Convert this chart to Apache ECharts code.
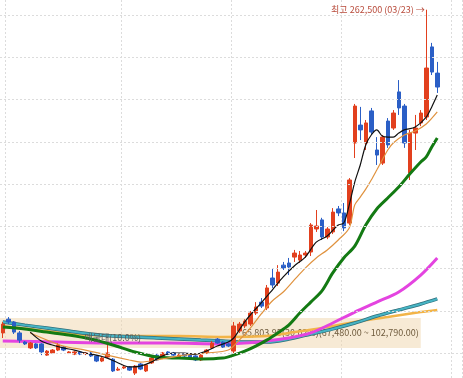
<!DOCTYPE html>
<html>
<head>
<meta charset="utf-8">
<script src="https://cdn.jsdelivr.net/npm/echarts@6/dist/echarts.min.js"></script>
<style>
  html, body { margin: 0; padding: 0; background: #fff; }
  #main { width: 463px; height: 378px; }
</style>
</head>
<body>
<div id="main"></div>
<script>
// 일봉 [open, close, low, high]
const ohlc = [
  [109500, 113700, 107100, 114700], [116000, 114700, 113700, 117000], [114700, 109900, 109000, 115100],
  [109500, 106100, 104700, 110400], [105200, 104300, 103800, 105700], [102400, 104700, 101900, 105200],
  [104300, 102400, 101900, 104700], [104300, 100500, 99000, 104700], [99000, 100900, 98600, 101400],
  [100000, 101400, 99500, 101900], [101400, 103800, 100900, 104700], [102800, 101400, 100900, 103300],
  [100000, 100500, 99500, 100900], [99500, 100500, 99000, 100900], [100500, 99500, 99000, 101000],
  [99700, 100000, 99000, 100500], [100000, 98600, 98100, 100500], [98600, 96200, 95700, 99000],
  [96200, 97600, 95700, 98100], [98100, 100000, 97600, 103800], [97100, 91500, 91000, 97600],
  [91900, 92400, 91500, 93400], [92900, 93400, 92400, 94300], [93400, 91900, 91500, 93800],
  [90500, 93800, 89600, 94300], [94800, 92400, 91900, 95300], [91500, 94300, 91000, 94800],
  [95300, 97600, 94800, 98100], [99000, 96700, 96200, 99500], [97600, 100000, 97100, 100500],
  [100500, 99500, 99000, 100900], [100000, 99000, 98600, 100500], [98100, 99000, 97600, 99500],
  [99500, 98600, 98100, 100000], [99000, 97600, 97100, 99500], [98600, 96700, 96200, 99000],
  [96700, 99000, 96200, 99500], [100000, 101400, 99500, 101900], [102400, 104700, 101900, 105700],
  [106600, 104700, 104300, 107100], [105200, 102800, 102400, 105700], [104300, 103300, 102800, 104700],
  [100900, 112800, 99500, 114700], [110400, 113700, 109500, 114700], [112800, 115100, 111800, 116000],
  [113700, 118900, 112800, 119900], [118900, 121800, 118000, 124100], [124100, 122200, 121300, 126000],
  [121300, 130800, 120300, 132200], [135500, 132200, 130800, 140200], [133100, 138300, 131700, 141600],
  [141600, 140200, 139300, 143100], [142600, 140700, 136900, 145000], [145400, 147300, 143100, 148800],
  [144000, 146400, 142600, 148300], [146400, 147300, 145000, 148300], [147800, 160600, 145900, 161500],
  [158700, 160100, 157300, 167700], [163000, 154900, 153500, 164000], [154900, 158700, 153900, 159600],
  [157300, 166700, 156300, 168600], [168200, 166300, 164800, 169600], [166300, 159200, 157700, 171000],
  [161500, 181900, 160600, 182800], [199400, 216900, 192300, 217900], [207900, 205600, 200800, 216500],
  [199400, 208900, 196100, 210300], [214600, 204600, 203200, 216000], [196100, 193700, 189000, 202200],
  [189900, 202200, 189000, 203200], [209800, 198500, 197100, 211200], [206500, 213600, 205600, 215000],
  [223600, 216000, 212700, 229200], [216900, 199400, 197100, 217900], [185200, 204100, 181900, 205600],
  [204100, 206500, 196100, 212700], [208900, 213600, 207400, 215000], [211700, 234900, 210300, 262500],
  [244900, 233000, 231600, 246800], [232500, 225900, 223100, 237800]
];

// 이동평균선 (그림에서 읽은 값, [봉 index, 가격])
const ma5 = [
  [5, 109900], [7, 105700], [9, 103800], [11, 102400], [13, 101400], [15, 100000], [17, 99000],
  [19, 97600], [21, 95300], [23, 93400], [25, 93800], [27, 95700], [29, 98600], [31, 100000],
  [33, 100000], [35, 99500], [37, 100900], [39, 103300], [41, 105200], [42, 107100], [43, 110900],
  [44, 114700], [45, 118000], [47, 123700], [49, 129800], [51, 136000], [53, 141200], [55, 145400],
  [57, 152500], [59, 155400], [61, 160600], [62, 161500], [63, 170100], [64, 180900], [65, 189000],
  [66, 198500], [67, 203200], [68, 205600], [69, 202700], [70, 202200], [71, 202200], [72, 204100],
  [73, 205600], [75, 207000], [77, 211700], [78, 216500], [79, 222100]
];
const ma10 = [
  [5, 109500], [11, 103300], [15, 101400], [19, 99000], [23, 96700], [25, 95700], [29, 97200],
  [33, 99000], [37, 100000], [41, 101400], [43, 106100], [45, 111800], [47, 118500], [49, 124600],
  [51, 128900], [53, 134600], [55, 140200], [57, 145000], [59, 148800], [61, 153500], [63, 159200],
  [64, 170100], [65, 173800], [66, 177600], [67, 181900], [68, 186600], [69, 191400], [70, 196100],
  [71, 199400], [73, 203200], [75, 205100], [77, 208400], [79, 214100]
];
const ma20 = [
  [0, 112300], [4, 111400], [8, 109900], [12, 108500], [16, 106600], [20, 103800], [24, 100500],
  [28, 98100], [32, 97600], [36, 97200], [40, 97600], [42, 99000], [44, 100900], [46, 103300],
  [48, 106100], [50, 109500], [52, 113200], [54, 118900], [56, 124100], [58, 129300], [60, 137900],
  [62, 145000], [64, 150600], [66, 160600], [68, 168200], [70, 173400], [72, 178600], [74, 184700],
  [76, 190400], [77, 192800], [78, 197500], [79, 201800]
];
const ma60 = [
  [0, 105700], [10, 105200], [20, 104700], [30, 104700], [40, 104300], [44, 104700], [48, 105700],
  [52, 107100], [56, 109500], [60, 114200], [64, 119400], [68, 124100], [72, 128900], [76, 136900],
  [79, 145000]
];
const ma120 = [
  [0, 114700], [4, 113200], [8, 111800], [12, 110400], [16, 109000], [20, 108000], [28, 107100],
  [36, 106100], [40, 105700], [44, 105200], [48, 105200], [52, 106600], [56, 109000], [60, 111400],
  [64, 114200], [68, 117500], [72, 120400], [76, 123200], [79, 125600]
];
const ma240 = [
  [0, 112800], [8, 110400], [16, 108500], [24, 108000], [32, 108000], [40, 107600], [48, 108000],
  [52, 109500], [58, 111800], [64, 114700], [70, 117000], [76, 119400], [79, 120400]
];

// 가격 눈금선
const priceLines = [100000, 120000, 140000, 160000, 180000, 200000, 220000, 240000, 260000];
const priceRange = [88170, 267100];

// 매물대 가격 구간, 끝 봉 index
const bandRange = [102400, 116600];
const bandEnd = 76;
const bandText = '65,803.95(30.02%)(67,480.00 ~ 102,790.00)';
const bandTag = { idx: 20, price: 107100, text: '매물대(10.0%)' };
const highIdx = 77;
const highPrice = 262500;

// 날짜 (03/23 이 최고가 봉), 오른쪽 여백 4칸은 빈 칸
const categories = [];
(function () {
  const d = new Date(2021, 2, 23);
  let n = 0;
  while (n < highIdx) { d.setDate(d.getDate() - 1); if (d.getDay() % 6) n++; }
  while (categories.length < ohlc.length + 4) {
    if (d.getDay() % 6) {
      categories.push(String(d.getMonth() + 1).padStart(2, '0') + '/' + String(d.getDate()).padStart(2, '0'));
    }
    d.setDate(d.getDate() + 1);
  }
})();

const font = '"Noto Sans CJK KR", "Noto Sans", sans-serif';
const gridStyle = { color: '#dcdcdc', type: [2, 2], width: 1 };

function maLine(name, data, color, width, z) {
  return {
    name: name, type: 'line', data: data, symbol: 'none', smooth: 0.3,
    connectNulls: true, z: z, silent: true,
    lineStyle: { color: color, width: width }
  };
}

const base = maLine('240', ma240, '#f2b448', 2.5, 2);
base.markLine = {
  silent: true, symbol: 'none', label: { show: false },
  lineStyle: gridStyle,
  data: priceLines.map(function (v) { return { yAxis: v }; })
};
base.markArea = {
  silent: true,
  itemStyle: { color: 'rgba(240,214,172,0.5)' },
  label: {
    show: true, position: 'insideRight', distance: 2,
    color: '#6e5a3c', fontSize: 9, fontFamily: font
  },
  data: [[
    { yAxis: bandRange[0], name: bandText },
    { xAxis: bandEnd, yAxis: bandRange[1] }
  ]]
};
base.markPoint = {
  symbol: 'circle', symbolSize: 1, silent: true,
  itemStyle: { color: 'rgba(0,0,0,0)' },
  label: {
    show: true, position: 'inside',
    color: '#5a5a5a', fontSize: 9, fontFamily: font,
    formatter: bandTag.text
  },
  data: [{ coord: [bandTag.idx, bandTag.price] }]
};

const chart = echarts.init(document.getElementById('main'));
chart.setOption({
  backgroundColor: '#ffffff',
  animation: false,
  grid: { left: 0, right: 1, top: 0, bottom: 0 },
  xAxis: {
    type: 'category', data: categories, boundaryGap: true,
    axisLine: { show: false }, axisTick: { show: false }, axisLabel: { show: false },
    splitLine: {
      show: true,
      interval: function (i) { return i === 1 || (i >= 22 && (i - 2) % 20 === 0); },
      lineStyle: gridStyle
    }
  },
  yAxis: {
    type: 'value', min: priceRange[0], max: priceRange[1],
    axisLine: { show: false }, axisTick: { show: false }, axisLabel: { show: false },
    splitLine: { show: false }
  },
  series: [
    base,
    {
      name: '일봉', type: 'candlestick', data: ohlc, barWidth: 4, z: 3,
      itemStyle: {
        color: '#e2401e', color0: '#2b5fc6',
        borderColor: '#e2401e', borderColor0: '#2b5fc6', borderWidth: 1
      },
      markPoint: {
        symbol: 'circle', symbolSize: 1, silent: true,
        itemStyle: { color: 'rgba(0,0,0,0)' },
        label: {
          show: true, position: 'left', distance: 1,
          color: '#b84a3a', fontSize: 9, fontFamily: font,
          formatter: function () {
            return '최고 ' + highPrice.toLocaleString('en-US') + ' (' + categories[highIdx] + ') →';
          }
        },
        data: [{ coord: [highIdx, highPrice] }]
      }
    },
    maLine('120', ma120, '#2f6e7a', 3.5, 2),
    maLine('120b', ma120, '#46b4c4', 2, 2),
    maLine('60', ma60, '#e444e0', 3, 2),
    maLine('20', ma20, '#137a13', 3, 4),
    maLine('10', ma10, '#e0923e', 1.2, 4),
    maLine('5', ma5, '#111111', 1.2, 4)
  ]
});
</script>
</body>
</html>
